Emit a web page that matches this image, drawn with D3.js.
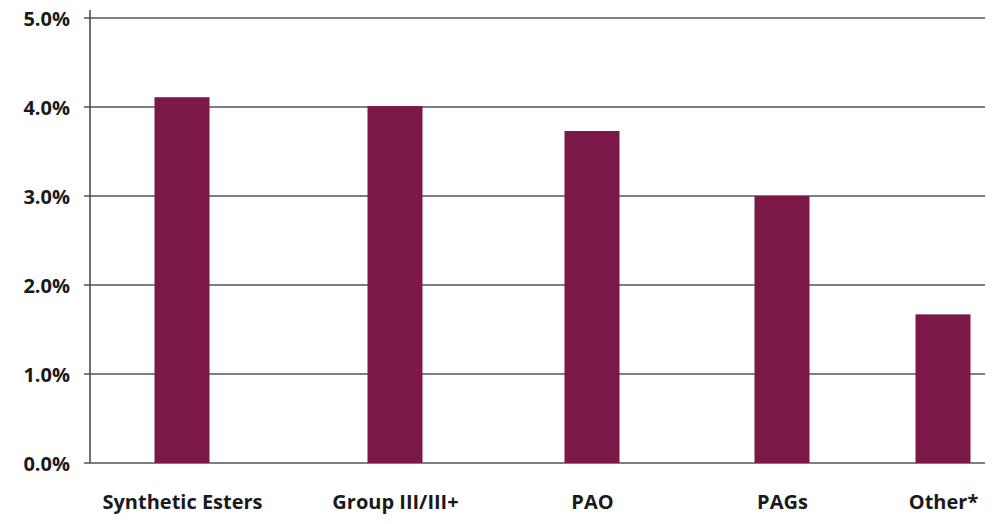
<!DOCTYPE html>
<html>
<head>
<meta charset="utf-8">
<script src="https://cdn.jsdelivr.net/npm/d3@7"></script>
<style>
  body { margin: 0; background: #fff; }
  text { font-family: "Open Sans", sans-serif; font-weight: 700; fill: #1a1a1a; }
</style>
</head>
<body>
<div id="chart"></div>
<script>
// data
const categories = ["Synthetic Esters", "Group III/III+", "PAO", "PAGs", "Other*"]
const values = [4.11, 4.01, 3.73, 3.0, 1.67]
const yTicks = [0, 1, 2, 3, 4, 5]

const width = 994
const height = 524
const plotLeft = 90, plotRight = 985, plotTop = 18, plotBottom = 463

const svg = d3.select("#chart")
  .append("svg")
  .attr("width", width)
  .attr("height", height)

// categories are not evenly spaced in the original
let xScale = d3.scaleOrdinal()
  .domain(categories)
  .range([182, 395, 592, 782, 943])
const barWidth = 55

let yScale = d3.scaleLinear()
  .domain([0, 5])
  .range([plotBottom, plotTop])

// gridlines
svg.append("g")
  .selectAll("line")
  .data(yTicks)
  .enter().append("line")
  .attr("x1", plotLeft - 6)
  .attr("x2", plotRight)
  .attr("y1", d => yScale(d))
  .attr("y2", d => yScale(d))
  .attr("stroke", "#555")
  .attr("stroke-width", 1.5)

// bars
svg.selectAll(".bar")
  .data(categories)
  .enter().append("rect")
  .attr("class", "bar")
  .attr("x", d => xScale(d) - barWidth / 2)
  .attr("width", barWidth)
  .attr("y", (d, i) => yScale(values[i]))
  .attr("height", (d, i) => yScale(0) - yScale(values[i]))
  .attr("fill", "#7b1848")

// y axis
let yAxis = d3.axisLeft(yScale)
  .tickValues(yTicks)
  .tickSize(0)
  .tickPadding(20)
  .tickFormat(d => d.toFixed(1) + "%")

svg.append("g")
  .attr("transform", "translate(" + plotLeft + ",0)")
  .call(yAxis)
  .call(g => g.select(".domain").remove())
  .selectAll("text")
  .style("font-size", "20px")
  .attr("dy", "0.38em")

svg.append("line")
  .attr("x1", plotLeft).attr("x2", plotLeft)
  .attr("y1", plotTop - 8).attr("y2", plotBottom)
  .attr("stroke", "#444")
  .attr("stroke-width", 1.5)

// x labels
let xAxis = d3.axisBottom(xScale)
  .tickSize(0)
  .tickPadding(32)

svg.append("g")
  .attr("transform", "translate(0," + plotBottom + ")")
  .call(xAxis)
  .call(g => g.select(".domain").remove())
  .selectAll("text")
  .style("font-size", "20px")
</script>
</body>
</html>
